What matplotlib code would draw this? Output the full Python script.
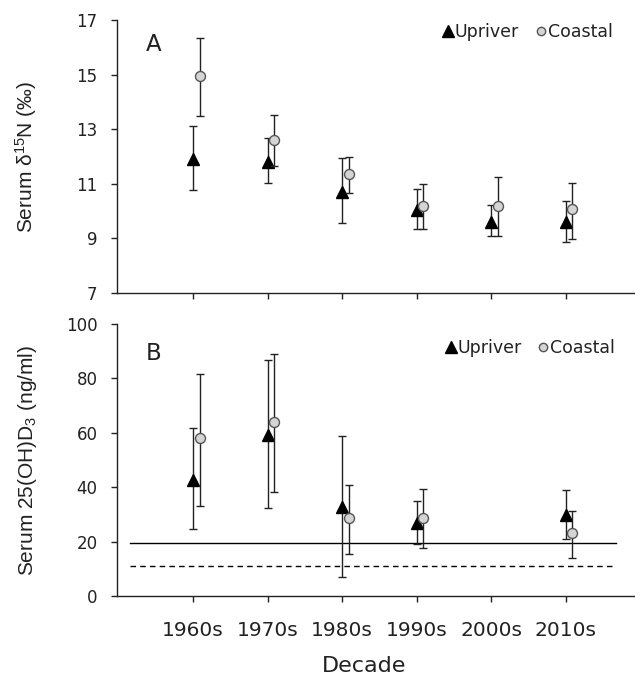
import numpy as np
import matplotlib.pyplot as plt
from matplotlib.lines import Line2D

# --- data ---
decades = ['1960s', '1970s', '1980s', '1990s', '2000s', '2010s']

# panel A: serum d15N (permil), mean with lower/upper bar ends
n15_up = [11.9, 11.8, 10.7, 10.05, 9.6, 9.6]
n15_up_lo = [10.77, 11.02, 9.58, 9.33, 9.09, 8.86]
n15_up_hi = [13.1, 12.67, 11.93, 10.81, 10.22, 10.38]
n15_co = [14.94, 12.6, 11.37, 10.19, 10.19, 10.08]
n15_co_lo = [13.48, 11.65, 10.67, 9.33, 9.09, 8.98]
n15_co_hi = [16.34, 13.52, 12.0, 10.98, 11.25, 11.04]

# panel B: serum 25(OH)D3 (ng/ml), no samples in the 2000s
vd_up = [42.6, 59.2, 32.8, 26.9, np.nan, 29.7]
vd_up_lo = [24.7, 32.2, 7.0, 19.3, np.nan, 20.9]
vd_up_hi = [61.7, 86.6, 59.0, 35.0, np.nan, 39.0]
vd_co = [58.0, 63.8, 28.6, 28.6, np.nan, 23.2]
vd_co_lo = [33.1, 38.1, 15.6, 17.7, np.nan, 13.8]
vd_co_hi = [81.5, 88.8, 41.0, 39.3, np.nan, 31.3]

# reference thresholds
sufficient = 19.5
deficient = 11.0

x = np.arange(1, len(decades) + 1)
off = 0.09
dk = '#222222'

plt.rcParams['font.family'] = ['DejaVu Sans']
plt.rcParams['mathtext.fontset'] = 'custom'
plt.rcParams['mathtext.rm'] = 'Liberation Sans'
plt.rcParams['mathtext.default'] = 'rm'

fig = plt.figure(figsize=(6.35, 6.78), dpi=100)
axA = fig.add_axes([0.1843, 0.5678, 0.8157, 0.4027])
axB = fig.add_axes([0.1843, 0.1209, 0.8157, 0.4012])


def draw(ax, up, up_lo, up_hi, co, co_lo, co_hi):
    up = np.array(up); co = np.array(co)
    eu = [up - np.array(up_lo), np.array(up_hi) - up]
    ec = [co - np.array(co_lo), np.array(co_hi) - co]
    ax.errorbar(x, up, yerr=eu, fmt='^', ms=9, mfc='black', mec='black',
                ecolor=dk, elinewidth=1.0, capsize=3.2, capthick=1.0, zorder=3)
    ax.errorbar(x + off, co, yerr=ec, fmt='o', ms=7.2, mfc='#d4d4d4', mec='#555555',
                mew=1.0, ecolor=dk, elinewidth=1.0, capsize=3.2, capthick=1.0, zorder=4)
    ax.set_xlim(-0.02, 6.93)
    ax.set_xticks(x)
    for s in ['top', 'right']:
        ax.spines[s].set_visible(False)
    for s in ['left', 'bottom']:
        ax.spines[s].set_color(dk)
        ax.spines[s].set_linewidth(1.0)
    ax.tick_params(direction='out', length=4, width=1.0, color=dk, labelcolor=dk)
    ax.tick_params(axis='y', labelsize=12, pad=10)
    ax.yaxis.set_label_coords(-0.15, 0.5)
    handles = [Line2D([], [], ls='none', marker='^', ms=8.5, mfc='black', mec='black'),
               Line2D([], [], ls='none', marker='o', ms=6, mfc='#d4d4d4', mec='#555555')]
    return handles


h = draw(axA, n15_up, n15_up_lo, n15_up_hi, n15_co, n15_co_lo, n15_co_hi)
axA.set_ylim(7, 17)
axA.set_yticks([7, 9, 11, 13, 15, 17])
axA.tick_params(axis='x', labelbottom=False)
axA.set_ylabel('Serum δ$^{15}$N (‰)', family='Liberation Sans', fontsize=15, color=dk)
axA.text(0.055, 0.91, 'A', transform=axA.transAxes, fontsize=16.5, color=dk, va='center')
axA.legend(h, ['Upriver', 'Coastal'], ncol=2, frameon=False, loc='center right',
           bbox_to_anchor=(0.957, 0.956), fontsize=12.5, handlelength=0.7,
           handletextpad=0.05, columnspacing=0.9, borderpad=0, borderaxespad=0,
           labelcolor=dk)

h = draw(axB, vd_up, vd_up_lo, vd_up_hi, vd_co, vd_co_lo, vd_co_hi)
axB.set_ylim(0, 100)
axB.set_yticks(np.arange(0, 101, 20))
axB.plot([0.16, 6.68], [sufficient, sufficient], color='black', lw=1.0, zorder=1)
axB.plot([0.16, 6.68], [deficient, deficient], color='black', lw=1.0, ls=(0, (4, 3)), zorder=1)
axB.set_xticklabels(decades)
axB.tick_params(axis='x', labelsize=14.5, pad=14)
axB.set_ylabel('Serum 25(OH)D$_3$ (ng/ml)', family='Liberation Sans', fontsize=15, color=dk)
axB.text(0.055, 0.89, 'B', transform=axB.transAxes, fontsize=16.5, color=dk, va='center')
axB.legend(h, ['Upriver', 'Coastal'], ncol=2, frameon=False, loc='center right',
           bbox_to_anchor=(0.962, 0.912), fontsize=12.5, handlelength=0.7,
           handletextpad=0.05, columnspacing=0.9, borderpad=0, borderaxespad=0,
           labelcolor=dk)

fig.text(0.573, 0.003, 'Decade', fontsize=16, color=dk, ha='center', va='bottom')

fig.savefig('out.png', dpi=100)
